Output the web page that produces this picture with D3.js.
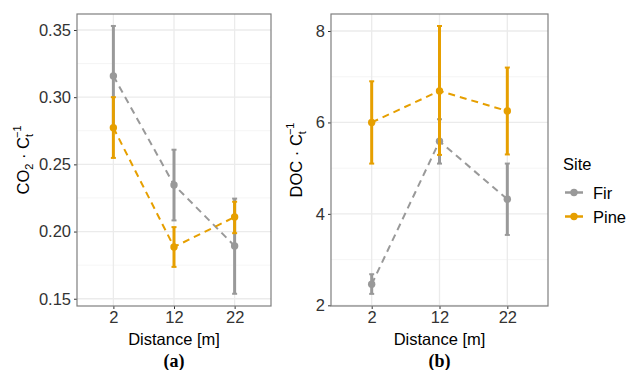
<!DOCTYPE html>
<html>
<head>
<meta charset="utf-8">
<script src="https://cdn.jsdelivr.net/npm/d3@7"></script>
<style>
  body { margin: 0; background: #fff; }
  svg { display: block; font-family: "Liberation Sans", Arial, sans-serif; }
  .tick-label { fill: #333; font-size: 16.5px; }
  .axis-title { fill: #000; font-size: 16.5px; }
  .panel-tag { font-family: "Liberation Serif", "DejaVu Serif", serif; font-weight: bold; font-size: 18px; }
</style>
</head>
<body>
<svg id="chart" width="626" height="370"></svg>
<script>
const distances = ['2', '12', '22'];
const sites = ['Fir', 'Pine'];
const siteColors = { Fir: '#999999', Pine: '#E69F00' };

// panel (a): CO2 / Ct
const co2Mean = { Fir: [0.3158, 0.2347, 0.1893], Pine: [0.2773, 0.1885, 0.2108] };
const co2Low  = { Fir: [0.2785, 0.2083, 0.1537], Pine: [0.2548, 0.1737, 0.1988] };
const co2High = { Fir: [0.353, 0.2609, 0.2245], Pine: [0.300, 0.2033, 0.2222] };
const co2Ticks = [0.15, 0.20, 0.25, 0.30, 0.35];
const co2Minor = [0.175, 0.225, 0.275, 0.325];

// panel (b): DOC / Ct
const docMean = { Fir: [2.46, 5.59, 4.32], Pine: [6.0, 6.69, 6.25] };
const docLow  = { Fir: [2.25, 5.10, 3.54], Pine: [5.10, 5.29, 5.30] };
const docHigh = { Fir: [2.68, 6.07, 5.10], Pine: [6.90, 8.11, 7.20] };
const docTicks = [2, 4, 6, 8];
const docMinor = [3, 5, 7];

const svg = d3.select('#chart');

function drawPanel(opts) {
  const { left, right, top, bottom, domain, ticks, minor, fmt, mean, low, high, tag, yLabel } = opts;

  const x = d3.scalePoint().domain(distances).range([left, right]).padding(0.6);
  const y = d3.scaleLinear().domain(domain).range([bottom, top]);

  const g = svg.append('g');

  //
  // Grid
  //
  g.selectAll('.minor').data(minor).join('line')
    .attr('x1', left).attr('x2', right)
    .attr('y1', d => y(d)).attr('y2', d => y(d))
    .attr('stroke', '#f2f2f2').attr('stroke-width', 0.8);
  g.selectAll('.major').data(ticks).join('line')
    .attr('x1', left).attr('x2', right)
    .attr('y1', d => y(d)).attr('y2', d => y(d))
    .attr('stroke', '#ebebeb').attr('stroke-width', 1.3);
  g.selectAll('.vmajor').data(distances).join('line')
    .attr('x1', d => x(d)).attr('x2', d => x(d))
    .attr('y1', top).attr('y2', bottom)
    .attr('stroke', '#ebebeb').attr('stroke-width', 1.3);

  //
  // Axes
  //
  const yAxis = g.append('g')
    .attr('transform', `translate(${left},0)`)
    .call(d3.axisLeft(y).tickValues(ticks).tickSize(3).tickPadding(3).tickFormat(fmt));
  const xAxis = g.append('g')
    .attr('transform', `translate(0,${bottom})`)
    .call(d3.axisBottom(x).tickSize(3).tickPadding(2));
  [yAxis, xAxis].forEach(a => {
    a.select('.domain').remove();
    a.selectAll('.tick line').attr('stroke', '#333');
    a.selectAll('.tick text').attr('class', 'tick-label').attr('font-size', null).attr('font-family', null);
  });

  //
  // Lines, error bars, points
  //
  sites.forEach(site => {
    const color = siteColors[site];
    const rows = distances.map((d, i) => ({ d, m: mean[site][i], lo: low[site][i], hi: high[site][i] }));

    g.append('path')
      .datum(rows)
      .attr('fill', 'none')
      .attr('stroke', color)
      .attr('stroke-width', 2)
      .attr('stroke-dasharray', '7,5')
      .attr('d', d3.line().x(r => x(r.d)).y(r => y(r.m)));

    const eb = g.append('g').selectAll('g').data(rows).join('g');
    eb.append('line')
      .attr('x1', r => x(r.d)).attr('x2', r => x(r.d))
      .attr('y1', r => y(r.lo)).attr('y2', r => y(r.hi))
      .attr('stroke', color).attr('stroke-width', 3);
    ['lo', 'hi'].forEach(k => {
      eb.append('line')
        .attr('x1', r => x(r.d) - 2.5).attr('x2', r => x(r.d) + 2.5)
        .attr('y1', r => y(r[k])).attr('y2', r => y(r[k]))
        .attr('stroke', color).attr('stroke-width', 2);
    });
    g.append('g').selectAll('circle').data(rows).join('circle')
      .attr('cx', r => x(r.d)).attr('cy', r => y(r.m))
      .attr('r', 3.7).attr('fill', color);
  });

  // border
  g.append('rect')
    .attr('x', left).attr('y', top)
    .attr('width', right - left).attr('height', bottom - top)
    .attr('fill', 'none').attr('stroke', '#7f7f7f').attr('stroke-width', 1.2);

  const cx = (left + right) / 2;
  g.append('text').attr('class', 'axis-title')
    .attr('x', cx).attr('y', 345).attr('text-anchor', 'middle')
    .text('Distance [m]');
  g.append('text').attr('class', 'panel-tag')
    .attr('x', cx).attr('y', 367).attr('text-anchor', 'middle')
    .text(tag);

  const yl = g.append('text').attr('class', 'axis-title')
    .attr('transform', `translate(${opts.yLabelX},${(top + bottom) / 2}) rotate(-90)`)
    .attr('text-anchor', 'middle');
  yl.append('tspan').text(yLabel);
  if (opts.sub2) yl.append('tspan').attr('font-size', 11).attr('dy', 4).text('2');
  yl.append('tspan').attr('dy', opts.sub2 ? -4 : 0).text(' \u00b7  C');
  yl.append('tspan').attr('font-size', 11).attr('dy', 4).text('t');
  yl.append('tspan').attr('font-size', 11).attr('dx', -4).attr('dy', -12).text('\u22121');
}

drawPanel({
  left: 77, right: 271, top: 14, bottom: 306,
  domain: [0.1446, 0.3619], ticks: co2Ticks, minor: co2Minor, fmt: d3.format('.2f'),
  mean: co2Mean, low: co2Low, high: co2High, tag: '(a)',
  yLabel: 'CO', sub2: true, yLabelX: 29
});

drawPanel({
  left: 331, right: 548, top: 14, bottom: 306,
  domain: [1.985, 8.372], ticks: docTicks, minor: docMinor, fmt: d3.format('d'),
  mean: docMean, low: docLow, high: docHigh, tag: '(b)',
  yLabel: 'DOC', sub2: false, yLabelX: 302
});

//
// Legend
//
const legend = svg.append('g');
legend.append('text').attr('class', 'axis-title')
  .attr('x', 563).attr('y', 170).text('Site');
sites.forEach((site, i) => {
  const ly = 192.5 + i * 24;
  legend.append('line')
    .attr('x1', 565).attr('x2', 583).attr('y1', ly).attr('y2', ly)
    .attr('stroke', siteColors[site]).attr('stroke-width', 2.5);
  legend.append('circle').attr('cx', 574).attr('cy', ly).attr('r', 3.7)
    .attr('fill', siteColors[site]);
  legend.append('text').attr('class', 'axis-title')
    .attr('x', 593).attr('y', ly + 6).text(site);
});
</script>
</body>
</html>
